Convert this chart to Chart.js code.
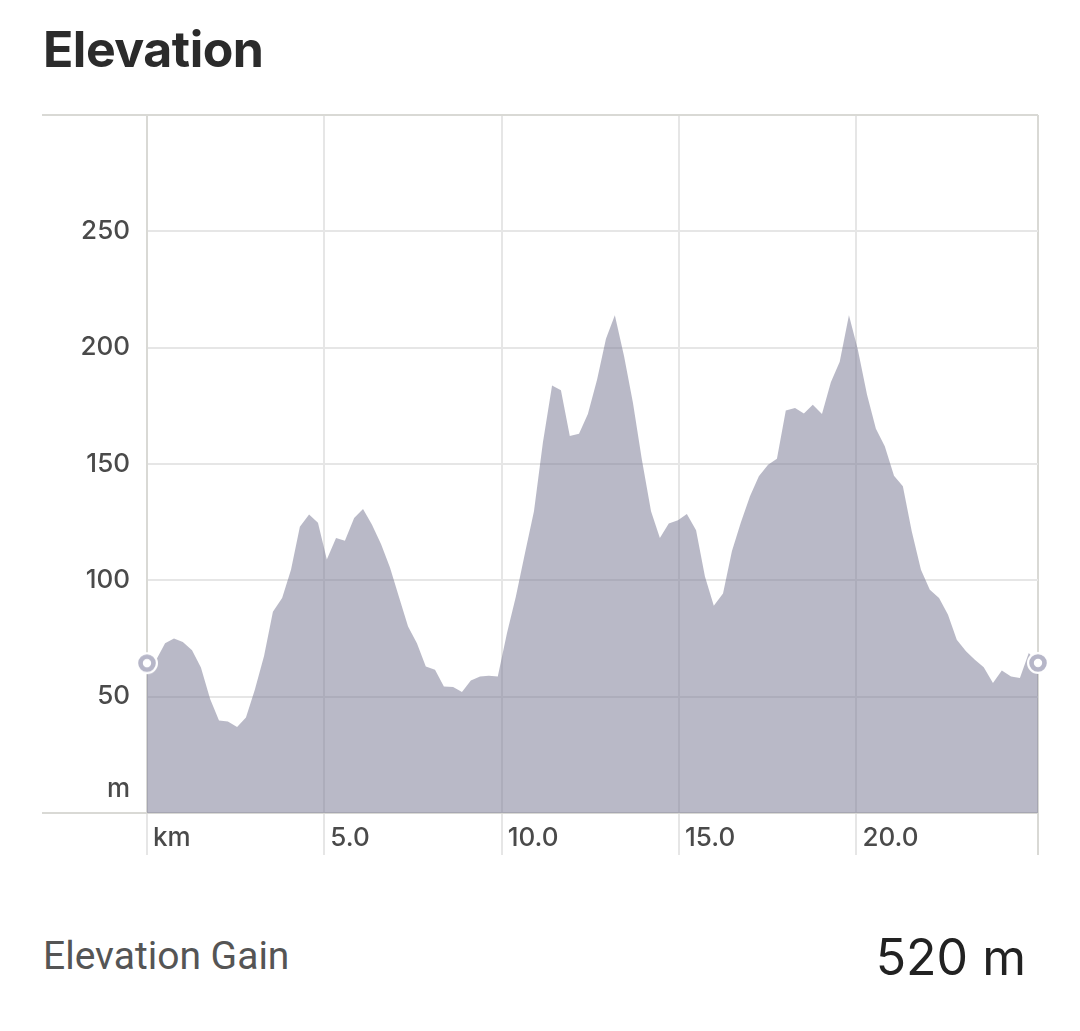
<!DOCTYPE html>
<html><head><meta charset="utf-8">
<script src="https://cdn.jsdelivr.net/npm/chart.js@4.4.1/dist/chart.umd.min.js"></script>
<style>
html,body{margin:0;padding:0;background:#fff;width:1080px;height:1031px;overflow:hidden}
#title{position:absolute;left:43px;top:24px;font:700 50px/1 Inter,sans-serif;color:#2b2b2b;letter-spacing:-0.5px;white-space:nowrap}
#wrap{position:absolute;left:0;top:0;width:1080px;height:870px}
#gainLabel{position:absolute;left:43px;top:937px;font:400 39px/1 Roboto,sans-serif;color:#555;white-space:nowrap}
#gainValue{position:absolute;right:54px;top:932px;font:400 50px/1 Inter,sans-serif;color:#222;white-space:nowrap}
</style></head><body>
<div id="title">Elevation</div>
<div id="wrap"><canvas id="c"></canvas></div>
<div id="gainLabel">Elevation Gain</div>
<div id="gainValue">520 m</div>
<script>
const distanceKm = [
  0.00, 0.25, 0.51, 0.76, 1.01, 1.27, 1.52, 1.78, 2.03, 2.28,
  2.54, 2.79, 3.04, 3.30, 3.55, 3.81, 4.06, 4.31, 4.57, 4.82,
  5.07, 5.33, 5.58, 5.84, 6.09, 6.34, 6.60, 6.85, 7.10, 7.36,
  7.61, 7.86, 8.12, 8.37, 8.63, 8.88, 9.13, 9.39, 9.64, 9.89,
  10.15, 10.40, 10.66, 10.91, 11.16, 11.42, 11.67, 11.92, 12.18, 12.43,
  12.69, 12.94, 13.19, 13.45, 13.70, 13.95, 14.21, 14.46, 14.71, 14.97,
  15.22, 15.48, 15.73, 15.98, 16.24, 16.49, 16.74, 17.00, 17.25, 17.51,
  17.76, 18.01, 18.27, 18.52, 18.77, 19.03, 19.28, 19.53, 19.79, 20.04,
  20.30, 20.55, 20.80, 21.06, 21.31, 21.56, 21.82, 22.07, 22.33, 22.58,
  22.83, 23.09, 23.34, 23.59, 23.85, 24.10, 24.36, 24.61, 24.86, 25.12
];
const elevationM = [
  64.4, 65.5, 73, 75, 73.5, 70, 62.5, 49, 39.8, 39.3,
  37, 41, 53, 67.5, 86.5, 92.4, 104.5, 123, 128.3, 124.7,
  109, 118.2, 117, 126.8, 130.7, 124, 115.5, 105.5, 93, 80.2,
  73, 63, 61.6, 54.4, 54.2, 52, 57, 58.7, 59, 58.7,
  77.4, 93, 112, 129.7, 159, 183.7, 181.7, 162, 163, 171.5,
  186.3, 203.8, 213.9, 196.3, 176.3, 152, 129.7, 118.2, 124.4, 125.8,
  128.5, 121.5, 101.7, 89.1, 94.3, 112.5, 124.7, 136.1, 144.7, 149.7,
  152.3, 173, 174.1, 171.7, 175.5, 171.5, 185.1, 193.9, 213.9, 199.2,
  179.8, 165.1, 157.6, 145, 140.4, 121.1, 104.6, 96, 92.4, 85.3,
  74.5, 69.5, 65.9, 62.6, 55.9, 61.2, 58.7, 58, 68.8, 64.5
];
const xTickValues = [0, 5, 10, 15, 20];
const xTickLabels = ['km', '5.0', '10.0', '15.0', '20.0'];
const yTickValues = [0, 50, 100, 150, 200, 250, 300];
const yTickLabels = [['m', ''], '50', '100', '150', '200', '250', ''];

const xMax = distanceKm[distanceKm.length - 1];
const yMax = yTickValues[yTickValues.length - 1];

const innerGrid = '#e6e6e6';
const outerGrid = '#d9d9d5';
const fillColor = 'rgba(115,115,143,0.5)';
const ringColor = '#b6b6c8';

// endpoint marker: white halo, lavender ring, white centre
const marker = document.createElement('canvas');
marker.width = 24; marker.height = 24;
(function () {
  const m = marker.getContext('2d');
  m.fillStyle = '#fff';
  m.beginPath(); m.arc(12, 12, 11, 0, Math.PI * 2); m.fill();
  m.strokeStyle = ringColor; m.lineWidth = 4.6;
  m.beginPath(); m.arc(12, 12, 6.5, 0, Math.PI * 2); m.stroke();
})();

const points = distanceKm.map((d, i) => ({ x: d, y: elevationM[i] }));
const lastIdx = points.length - 1;

new Chart(document.getElementById('c'), {
  type: 'line',
  data: {
    datasets: [{
      data: points,
      fill: 'origin',
      backgroundColor: fillColor,
      borderColor: 'transparent',
      borderWidth: 0,
      tension: 0,
      clip: false,
      pointStyle: marker,
      pointRadius: (ctx) => (ctx.dataIndex === 0 || ctx.dataIndex === lastIdx) ? 12 : 0,
      pointHoverRadius: 0
    }]
  },
  options: {
    responsive: true,
    maintainAspectRatio: false,
    animation: false,
    events: [],
    layout: { padding: { left: 0, top: 115, right: 42, bottom: 0 } },
    plugins: { legend: { display: false }, tooltip: { enabled: false }, title: { display: false } },
    scales: {
      x: {
        type: 'linear',
        min: 0,
        max: xMax,
        afterBuildTicks: (s) => { s.ticks = xTickValues.concat([xMax]).map(v => ({ value: v })); },
        afterFit: (s) => { s.height = 57; },
        border: { display: true, color: outerGrid, width: 2 },
        grid: {
          drawOnChartArea: true,
          drawTicks: true,
          tickLength: 42,
          lineWidth: 2,
          color: (ctx) => (ctx.tick && ctx.tick.value === xMax) ? outerGrid : innerGrid,
          tickColor: (ctx) => (ctx.tick && ctx.tick.value === xMax) ? outerGrid : innerGrid,
          tickWidth: 2
        },
        ticks: {
          autoSkip: false,
          maxRotation: 0,
          minRotation: 0,
          align: 'start',
          labelOffset: 6,
          padding: -32,
          color: '#4a4a4a',
          font: { family: 'Inter', size: 26, weight: '500' },
          callback: (v, i) => (i < xTickLabels.length ? xTickLabels[i] : '')
        }
      },
      y: {
        type: 'linear',
        min: 0,
        max: yMax,
        afterBuildTicks: (s) => { s.ticks = yTickValues.map(v => ({ value: v })); },
        afterFit: (s) => { s.width = 147; },
        border: { display: true, color: outerGrid, width: 2 },
        grid: {
          drawOnChartArea: true,
          drawTicks: true,
          tickLength: 105,
          lineWidth: 2,
          tickWidth: 2,
          color: (ctx) => (ctx.tick && ctx.tick.value === yMax) ? outerGrid : innerGrid,
          tickColor: (ctx) => (ctx.tick && (ctx.tick.value === yMax || ctx.tick.value === 0)) ? outerGrid : 'rgba(0,0,0,0)'
        },
        ticks: {
          padding: -88,
          color: '#4a4a4a',
          font: (ctx) => ({
            family: 'Inter', size: 26, weight: '500',
            lineHeight: (ctx.tick && ctx.tick.value === 0) ? '48px' : 1.2
          }),
          callback: (v, i) => yTickLabels[i]
        }
      }
    }
  }
});
</script>
</body></html>
